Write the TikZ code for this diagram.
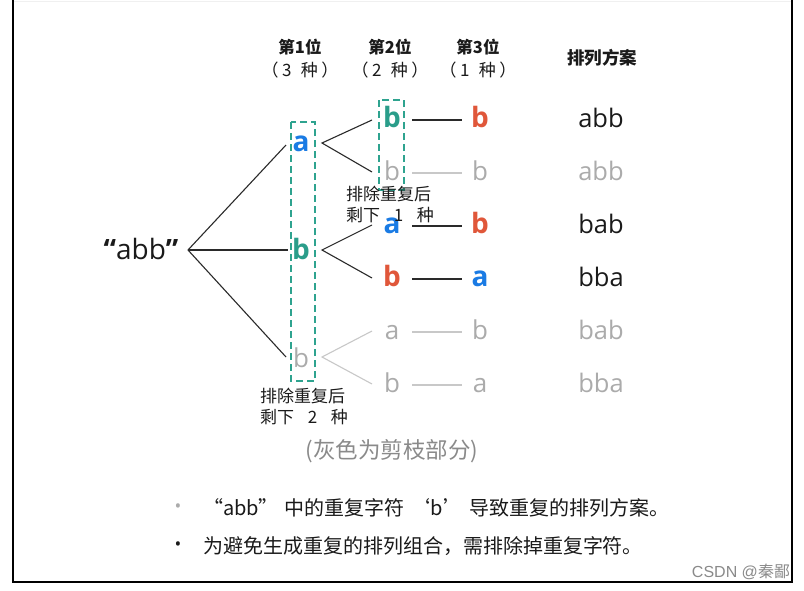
\documentclass[tikz,border=0pt]{standalone}
\usepackage{fontspec}
\setmainfont{Open Sans}
\newfontfamily\cjk{Noto Sans CJK SC}
\newfontfamily\arialf{Liberation Sans}
\definecolor{cblue}{HTML}{1A7BE4}
\definecolor{cteal}{HTML}{2A9D8A}
\definecolor{cred}{HTML}{E0573A}
\definecolor{cgray}{HTML}{ABABAB}
\definecolor{cline}{HTML}{2A2A2A}
\definecolor{cgline}{HTML}{C8C8C8}
\definecolor{cbox}{HTML}{2EA38F}
\definecolor{ctxt}{HTML}{1A1A1A}
\definecolor{cnote}{HTML}{8A8A8A}
\begin{document}
\begin{tikzpicture}[x=1pt,y=-1pt,
  every node/.style={inner sep=0pt, outer sep=0pt},
  boldlet/.style={font=\fontsize{28}{28}\selectfont\bfseries, anchor=base, minimum width=18pt},
  glet/.style={font=\fontsize{26}{26}\selectfont, text=cgray, anchor=base, minimum width=18pt},
  reslet/.style={font=\fontsize{25.5}{25.5}\selectfont, anchor=base, text=ctxt},
  gres/.style={reslet, text=cgray},
  hdr/.style={font=\cjk\fontsize{16.5}{16.5}\selectfont\bfseries, text=ctxt},
  hdrsub/.style={font=\cjk\fontsize{17}{17}\selectfont, text=ctxt},
  lbl/.style={font=\cjk\fontsize{17}{21}\selectfont, text=ctxt, align=left},
  conn/.style={draw=cline, line width=1.1pt},
  gconn/.style={draw=cgline, line width=1.1pt},
  dbox/.style={draw=cbox, line width=1.4pt, dash pattern=on 7pt off 4pt},
  bul/.style={font=\cjk\fontsize{20}{20}\selectfont, text=ctxt, anchor=west}
]
\useasboundingbox (0,0) rectangle (804,590);
\fill[white] (0,0) rectangle (804,590);
\draw[gray!12, line width=1pt] (13,1) -- (792,1);
\draw[black, line width=2.2pt] (13,0) -- (13,582) -- (792,582) -- (792,0);

% headers
\node[hdr] (h1) at (300,47) {第1位};
\node[hdrsub] (h1s) at (300,70) {（\hspace{0.2em}3\hspace{0.55em}种\hspace{0.2em}）};
\node[hdr] (h2) at (390,47) {第2位};
\node[hdrsub] (h2s) at (390,70) {（\hspace{0.2em}2\hspace{0.55em}种\hspace{0.2em}）};
\node[hdr] (h3) at (478,47) {第3位};
\node[hdrsub] (h3s) at (478,70) {（\hspace{0.2em}1\hspace{0.55em}种\hspace{0.2em}）};
\node[hdr, font=\cjk\fontsize{17.5}{17.5}\selectfont\bfseries] (h4) at (602,58) {排列方案};

% root
\node[font=\fontsize{28}{28}\selectfont, text=ctxt, anchor=base] (root) at (141,259) {\textbf{“}abb\textbf{”}};
\coordinate (rc) at (188,250);

% level 1
\node[boldlet, text=cblue] (l1a) at (301,151) {a};
\node[boldlet, text=cteal] (l1b) at (301,259) {b};
\node[glet] (l1c) at (301,367) {b};

% level 2
\node[boldlet, text=cteal] (l2a) at (392,127) {b};
\node[glet] (l2b) at (392,180) {b};
\node[boldlet, text=cblue] (l2c) at (392,233) {a};
\node[boldlet, text=cred] (l2d) at (392,286) {b};
\node[glet] (l2e) at (392,339) {a};
\node[glet] (l2f) at (392,392) {b};

% level 3
\node[boldlet, text=cred] (l3a) at (480,127) {b};
\node[glet] (l3b) at (480,180) {b};
\node[boldlet, text=cred] (l3c) at (480,233) {b};
\node[boldlet, text=cblue] (l3d) at (480,286) {a};
\node[glet] (l3e) at (480,339) {b};
\node[glet] (l3f) at (480,392) {a};

% results
\node[reslet] (r1) at (601,127) {abb};
\node[gres] (r2) at (601,180) {abb};
\node[reslet] (r3) at (601,233) {bab};
\node[reslet] (r4) at (601,286) {bba};
\node[gres] (r5) at (601,339) {bab};
\node[gres] (r6) at (601,392) {bba};

% root to level 1
\coordinate (e1) at (286,145);
\coordinate (e2) at (288,250);
\coordinate (e3) at (286,357);
\draw[conn] (rc) -- (e1);
\draw[conn] (rc) -- (e2);
\draw[conn] (rc) -- (e3);

% level 1 to level 2
\coordinate (p1) at (322,143);
\coordinate (p2) at (322,250);
\coordinate (p3) at (322,357);
\draw[conn] (372,120) -- (p1) -- (372,172);
\draw[conn] (372,225) -- (p2) -- (372,278);
\draw[gconn] (372,331) -- (p3) -- (372,384);

% level 2 to level 3
\draw[conn] (412,120) -- (462,120);
\draw[gconn] (412,173) -- (462,173);
\draw[conn] (412,226) -- (462,226);
\draw[conn] (412,279) -- (462,279);
\draw[gconn] (412,332) -- (462,332);
\draw[gconn] (412,385) -- (462,385);

% dashed boxes
\draw[dbox] (291,122) rectangle (315,381);
\draw[dbox] (379,100) rectangle (404,190);

% labels
\node[lbl] (lb2) at (390,204) {排除重复后\\剩下\hspace{0.8em}1\hspace{0.8em}种};
\node[lbl] (lb1) at (304,406) {排除重复后\\剩下\hspace{0.8em}2\hspace{0.8em}种};

\node[font=\cjk\fontsize{22.5}{22.5}\selectfont, text=cnote] (note) at (392,451) {(灰色为剪枝部分)};

% bullets
\node[font=\fontsize{18}{18}\selectfont, text=cgray] (b1) at (178,508) {•};
\node[bul] (t1) at (203,508) {“abb”\hspace{0.3em}中的重复字符\hspace{0.3em}‘b’\hspace{0.3em}导致重复的排列方案。};
\node[font=\fontsize{18}{18}\selectfont, text=ctxt] (b2) at (178,546) {•};
\node[bul] (t2) at (203,546) {为避免生成重复的排列组合，需排除掉重复字符。};

% watermark
\node[anchor=east, text=cnote, font=\fontsize{16}{16}\selectfont] (wm) at (790,572) {\arialf CSDN @\cjk 秦鄙};
\end{tikzpicture}
\end{document}
